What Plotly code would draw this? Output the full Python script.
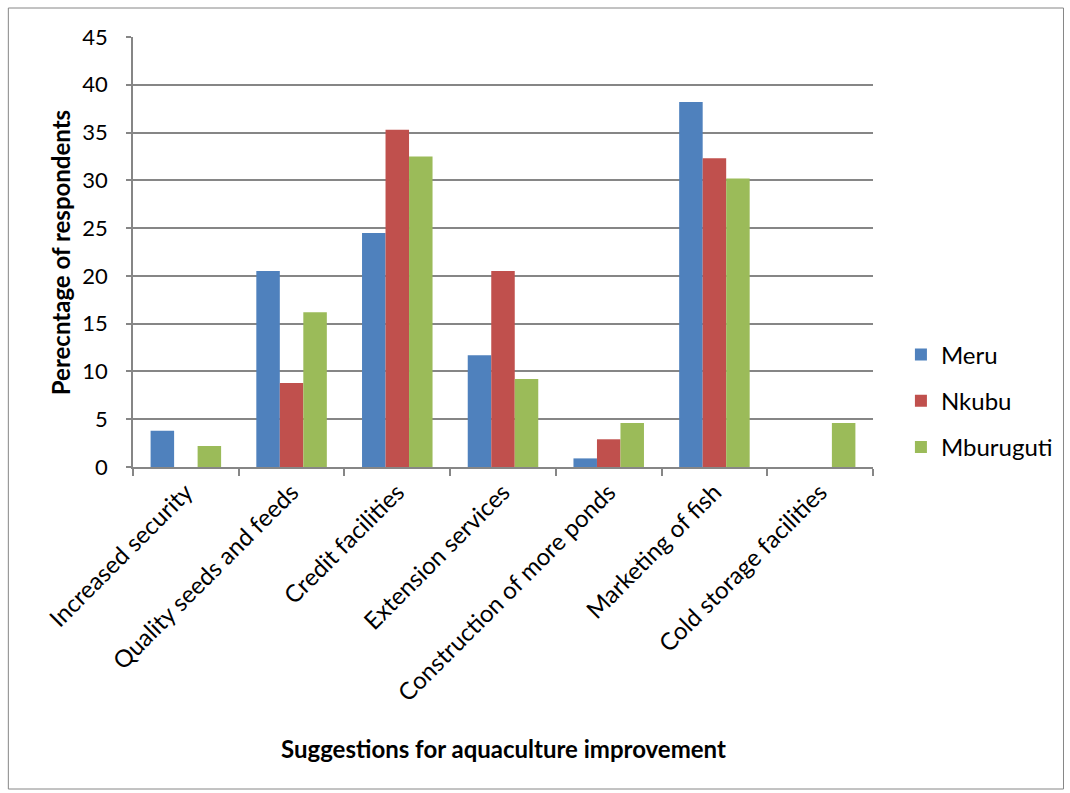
import plotly.graph_objects as go

categories = ["Increased security", "Quality seeds and feeds", "Credit facilities",
              "Extension services", "Construction of more ponds", "Marketing of fish",
              "Cold storage facilities"]
meru = [3.8, 20.5, 24.5, 11.7, 0.9, 38.2, 0]
nkubu = [0, 8.8, 35.3, 20.5, 2.9, 32.3, 0]
mburuguti = [2.2, 16.2, 32.5, 9.2, 4.6, 30.2, 4.6]
series_names = ["Meru", "Nkubu", "Mburuguti"]
colors = ["#4F81BD", "#C0504D", "#9BBB59"]
y_ticks = [0, 5, 10, 15, 20, 25, 30, 35, 40, 45]

FONT = "Lato, 'Open Sans', sans-serif"

fig = go.Figure()
for name, vals, col in zip(series_names, [meru, nkubu, mburuguti], colors):
    fig.add_trace(go.Bar(x=categories, y=vals, name=name, marker_color=col,
                         marker_line_width=0, legendgroup=name))

L, R, T, B = 133, 195, 37, 326
W, H = 1070, 793
pw, ph = W - L - R, H - T - B

fig.update_layout(
    width=W, height=H,
    margin=dict(l=L, r=R, t=T, b=B),
    paper_bgcolor="white", plot_bgcolor="white",
    barmode="group", bargap=0.333, bargroupgap=0,
    font=dict(family=FONT, size=24, color="black"),
    legend=dict(x=(903 - L) / pw, y=(H - B - 401) / ph, xanchor="left", yanchor="middle",
                font=dict(size=24), tracegroupgap=12, itemwidth=30),
    xaxis=dict(showline=True, linecolor="#868686", linewidth=1.5,
               ticks="outside", ticklen=7, tickcolor="#868686", tickwidth=1.5,
               tickson="boundaries", tickangle=-45, tickfont=dict(size=24)),
    yaxis=dict(range=[0, 45], tickvals=y_ticks, showline=True, linecolor="#868686", linewidth=1.5,
               ticks="outside", ticklen=5, tickcolor="#868686", tickwidth=1.5,
               showgrid=True, gridcolor="#868686", gridwidth=1.5, zeroline=False,
               tickfont=dict(size=22), ticklabelstandoff=14),
    annotations=[
        dict(text="<b>Perecntage of respondents</b>", x=(60 - L) / pw, y=(H - B - 253) / ph,
             xref="paper", yref="paper", textangle=-90, showarrow=False,
             font=dict(size=24), xanchor="center", yanchor="middle"),
        dict(text="<b>Suggestions for aquaculture improvement</b>", x=(505 - L) / pw,
             y=(H - B - 748) / ph, xref="paper", yref="paper", showarrow=False,
             font=dict(size=24), xanchor="center", yanchor="middle"),
    ],
    shapes=[dict(type="rect", xref="paper", yref="paper",
                 x0=(8 - L) / pw, x1=(1066 - L) / pw,
                 y0=(H - B - 789) / ph, y1=(H - B - 8) / ph,
                 line=dict(color="#868686", width=1))],
)

fig.write_html("out.html")
